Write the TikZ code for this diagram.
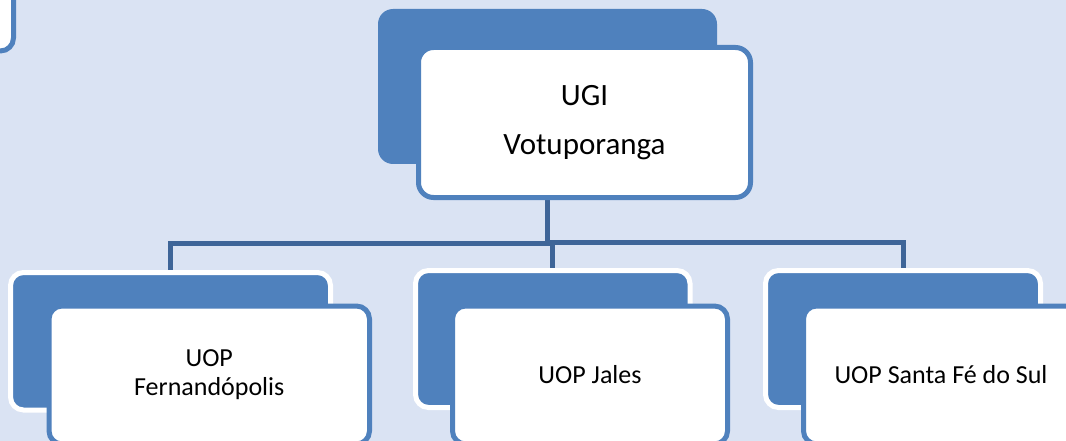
\documentclass[tikz,border=0pt]{standalone}
\usepackage{fontspec}
\setmainfont{Carlito}
\pgfdeclarelayer{bglayer}
\pgfdeclarelayer{connlayer}
\pgfsetlayers{bglayer,connlayer,main}
\definecolor{bg}{HTML}{DAE3F3}
\definecolor{accent}{HTML}{4F81BD}
\definecolor{connc}{HTML}{3E6598}
\begin{document}
\begin{tikzpicture}[x=1pt,y=-1pt,
  backbox/.style={rectangle, rounded corners=13pt, fill=accent, draw=white, line width=5pt, inner sep=0pt},
  frontbox/.style={rectangle, rounded corners=13pt, fill=white, draw=accent, line width=5pt, inner sep=0pt, align=center, text=black},
  conn/.style={draw=connc, line width=5pt},
  topfont/.style={font=\fontsize{31}{49}\selectfont},
  childfont/.style={font=\fontsize{26}{29}\selectfont}]
\useasboundingbox (0,0) rectangle (1066,441);
\clip (0,0) rectangle (1066,441);
\begin{pgfonlayer}{bglayer}
\fill[bg] (0,0) rectangle (1066,441);
\end{pgfonlayer}
% partial box at top left
\node[frontbox, minimum width=127pt, minimum height=122pt] (tl) at (-50,-10) {};
% top boxes
\node[backbox, draw=none, rounded corners=15pt, minimum width=339pt, minimum height=155pt] (topback) at (547.5,86.5) {};
\node[frontbox, rounded corners=15pt, topfont, minimum width=332pt, minimum height=150pt] (topfront) at (584.5,122.5) {UGI\\Votuporanga};
% children
\node[backbox, minimum width=320pt, minimum height=137.5pt] (lback) at (170.5,341.25) {};
\node[frontbox, childfont, minimum width=320.5pt, minimum height=138pt] (lfront) at (209.25,375) {UOP\\Fernandópolis};
\node[backbox, minimum width=274.5pt, minimum height=137pt] (mback) at (552.75,339) {};
\node[frontbox, childfont, minimum width=275pt, minimum height=138pt] (mfront) at (590,375) {UOP Jales};
\node[backbox, minimum width=275pt, minimum height=137pt] (rback) at (903,339) {};
\node[frontbox, childfont, minimum width=275pt, minimum height=138pt] (rfront) at (941,375) {UOP Santa Fé do Sul};
% connectors
\begin{pgfonlayer}{connlayer}
\draw[conn] (topback.south) -- ++(0,77) -| (lback.north);
\draw[conn] (topback.south) -- ++(0,76.5) -| (mback.north);
\draw[conn] (topback.south) -- ++(0,75.5) -| (rback.north);
\end{pgfonlayer}
\end{tikzpicture}
\end{document}
